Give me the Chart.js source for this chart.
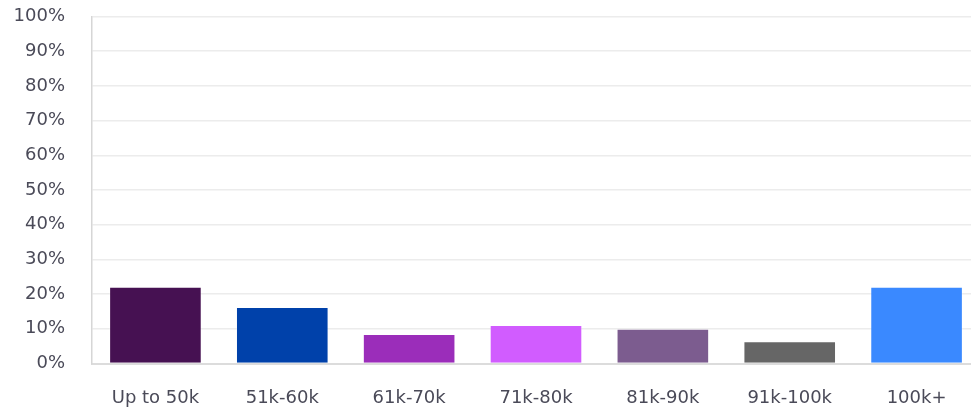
<!DOCTYPE html>
<html>
<head>
<meta charset="utf-8">
<script src="https://cdn.jsdelivr.net/npm/chart.js@4"></script>
<style>
  html, body { margin: 0; padding: 0; background: #fff; overflow: hidden; }
  #wrap { width: 980px; height: 410px; position: relative; }
</style>
</head>
<body>
<div id="wrap"><canvas id="myChart"></canvas></div>
<script>
const categorias = ['Up to 50k', '51k-60k', '61k-70k', '71k-80k', '81k-90k', '91k-100k', '100k+'];
const porcentajes = [22.1, 16.3, 8.5, 11.1, 10.0, 6.4, 22.1];
const colores = ['#461152', '#0041aa', '#9b2dba', '#d15cff', '#7c5c8f', '#666666', '#3a89ff'];
const ticksY = [0, 10, 20, 30, 40, 50, 60, 70, 80, 90, 100];

const fuente = { family: 'DejaVu Sans', size: 18 };
const colorTexto = '#4a4a58';

const ctx = document.getElementById('myChart');

new Chart(ctx, {
    type: 'bar',
    data: {
        labels: categorias,
        datasets: [{
            data: porcentajes,
            backgroundColor: colores,
            borderColor: 'rgba(255,255,255,0.3)',
            borderWidth: 1,
            categoryPercentage: 1,
            barPercentage: 0.73
        }]
    },
    options: {
        responsive: true,
        maintainAspectRatio: false,
        animation: false,
        layout: { padding: 0 },
        plugins: {
            legend: { display: false },
            tooltip: { enabled: false }
        },
        scales: {
            x: {
                grid: { display: false, drawTicks: false },
                border: { color: '#dcdcdc', width: 2 },
                ticks: { color: colorTexto, font: fuente, padding: 24, maxRotation: 0 },
                afterFit: scale => { scale.height = 46.5 }
            },
            y: {
                min: 0,
                max: 100,
                afterBuildTicks: scale => { scale.ticks = ticksY.map(v => ({ value: v })) },
                grid: { color: '#ececec', lineWidth: 1.5, drawTicks: false },
                border: { color: '#d6d6d6', width: 1.5 },
                ticks: {
                    color: colorTexto,
                    font: fuente,
                    padding: 27,
                    callback: v => v + '%'
                },
                afterFit: scale => {
                    scale.width = 92
                    scale.paddingTop = 16.5
                    scale.paddingBottom = 0
                }
            }
        }
    }
});
</script>
</body>
</html>
